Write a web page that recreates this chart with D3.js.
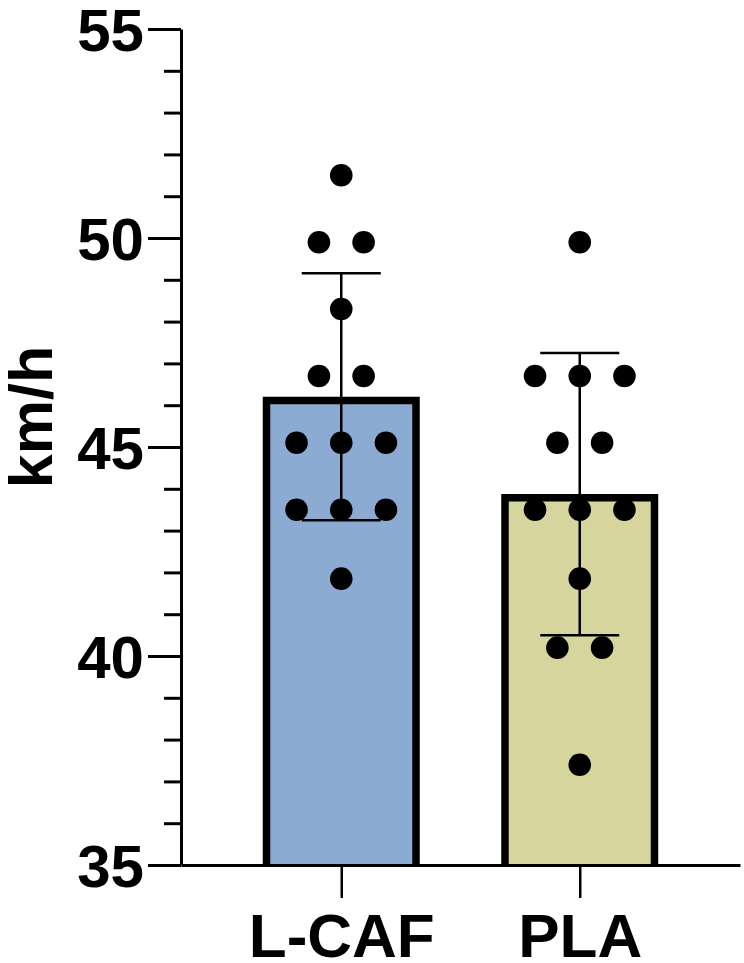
<!DOCTYPE html>
<html>
<head>
<meta charset="utf-8">
<script src="https://cdn.jsdelivr.net/npm/d3@7"></script>
<style>
  html, body { margin: 0; padding: 0; background: #fff; }
  svg { display: block; }
  text { font-family: "Liberation Sans", Arial, sans-serif; font-weight: bold; fill: #000; }
</style>
</head>
<body>
<svg id="chart" width="744" height="963"></svg>
<script>
// ---- data ----
const categories = ["L-CAF", "PLA"];
const lcafValues = [51.5, 49.9, 49.9, 48.3, 46.7, 46.7, 45.1, 45.1, 45.1, 43.5, 43.5, 43.5, 41.85];
const plaValues  = [49.9, 46.7, 46.7, 46.7, 45.1, 45.1, 43.5, 43.5, 43.5, 41.85, 40.2, 40.2, 37.4];
const seriesValues = [lcafValues, plaValues];
const barColors = ["#8CABD3", "#D7D59E"];
const yMajorTicks = [35, 40, 45, 50, 55];
const yMinorTicks = [36, 37, 38, 39, 41, 42, 43, 44, 46, 47, 48, 49, 51, 52, 53, 54];
const yLabel = "km/h";

// ---- layout ----
const svg = d3.select("#chart");
const axisX = 181, axisBottomY = 865, axisTopY = 29, axisRight = 740;
const barWidth = 157, barStroke = 7.5, dotR = 11.3, dotSpacing = 44.7, capWidth = 79;

const x = d3.scalePoint().domain(categories).range([axisX, axisRight]).padding(0.672);
const y = d3.scaleLinear().domain([35, 55]).range([axisBottomY, axisTopY]);

const groups = categories.map((c, i) => {
  const vals = seriesValues[i];
  return {
    cat: c,
    color: barColors[i],
    values: vals,
    mean: d3.mean(vals),
    sd: d3.deviation(vals)
  };
});

// bars (stroke drawn inside the bar, no bottom edge)
const h = barStroke / 2;
svg.append("g").selectAll("path")
  .data(groups).join("path")
  .attr("d", d => {
    const cx = x(d.cat), x0 = cx - barWidth / 2 + h, x1 = cx + barWidth / 2 - h;
    return `M${x0},${y(35)}V${y(d.mean) + h}H${x1}V${y(35)}`;
  })
  .attr("fill", d => d.color)
  .attr("stroke", "#000")
  .attr("stroke-width", barStroke)
  .attr("stroke-linejoin", "miter");

// error bars
const eb = svg.append("g").attr("stroke", "#000").attr("stroke-width", 2.5);
groups.forEach(d => {
  const cx = x(d.cat);
  eb.append("line").attr("x1", cx).attr("x2", cx).attr("y1", y(d.mean + d.sd)).attr("y2", y(d.mean - d.sd));
  [d.mean + d.sd, d.mean - d.sd].forEach(v => {
    eb.append("line").attr("x1", cx - capWidth / 2).attr("x2", cx + capWidth / 2).attr("y1", y(v)).attr("y2", y(v));
  });
});

// points: spread equal values horizontally
const pts = [];
groups.forEach(d => {
  const byVal = d3.group(d.values, v => v);
  byVal.forEach((arr, v) => {
    const n = arr.length;
    arr.forEach((_, k) => pts.push({ cat: d.cat, v, off: (k - (n - 1) / 2) * dotSpacing }));
  });
});
svg.append("g").selectAll("circle")
  .data(pts).join("circle")
  .attr("cx", d => x(d.cat) + d.off)
  .attr("cy", d => y(d.v))
  .attr("r", dotR)
  .attr("fill", "#000");

// y axis minor ticks
const yMinor = svg.append("g").attr("transform", `translate(${axisX},0)`)
  .call(d3.axisLeft(y).tickValues(yMinorTicks).tickSize(17).tickFormat(""));
yMinor.select(".domain").remove();
yMinor.selectAll("line").attr("stroke", "#000").attr("stroke-width", 3);

// y axis major
const yAxis = svg.append("g").attr("transform", `translate(${axisX},0)`)
  .call(d3.axisLeft(y).tickValues(yMajorTicks).tickSize(33).tickSizeOuter(0).tickPadding(4).tickFormat(d3.format("d")));
yAxis.select(".domain").attr("stroke", "#000").attr("stroke-width", 3);
yAxis.selectAll(".tick line").attr("stroke", "#000").attr("stroke-width", 3);
yAxis.selectAll("text")
  .attr("font-size", 60).attr("font-family", "Liberation Sans, Arial, sans-serif")
  .attr("font-weight", "bold").attr("fill", "#000").attr("dy", "0.36em");

// x axis
const xAxis = svg.append("g").attr("transform", `translate(0,${axisBottomY})`)
  .call(d3.axisBottom(x).tickSize(33).tickSizeOuter(0).tickPadding(15));
xAxis.select(".domain").attr("stroke", "#000").attr("stroke-width", 3);
xAxis.selectAll(".tick line").attr("stroke", "#000").attr("stroke-width", 2.5);
xAxis.selectAll("text")
  .attr("font-size", 62).attr("font-family", "Liberation Sans, Arial, sans-serif")
  .attr("font-weight", "bold").attr("fill", "#000");

// y label
svg.append("text")
  .attr("transform", "rotate(-90)")
  .attr("x", -417).attr("y", 52)
  .attr("text-anchor", "middle")
  .attr("font-size", 61)
  .text(yLabel);
</script>
</body>
</html>
